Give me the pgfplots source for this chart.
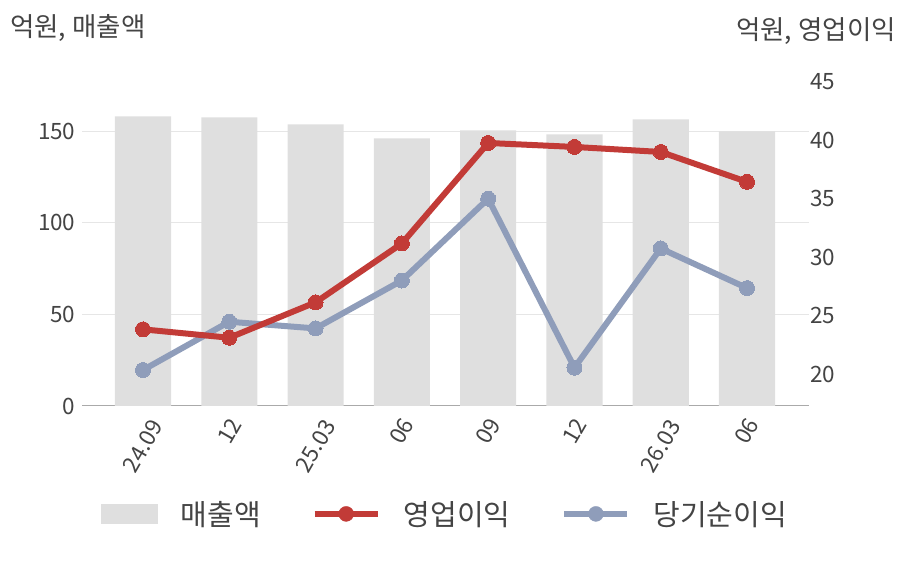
\documentclass[border=0pt]{standalone}
\usepackage{fontspec}
\setmainfont{Noto Sans CJK KR}
\usepackage{pgfplots}
\pgfplotsset{compat=1.18}
\definecolor{barc}{HTML}{DFDFDF}
\definecolor{redc}{HTML}{C23B37}
\definecolor{bluec}{HTML}{8F9DBA}
\definecolor{txt}{HTML}{444444}
\definecolor{gridc}{HTML}{E6E6E6}
\definecolor{axc}{HTML}{AAAAAA}
\begin{document}
\begin{tikzpicture}
\path[use as bounding box] (0,0) rectangle (908pt,580pt);
\node[anchor=west, inner sep=0pt, text=txt, font=\fontsize{26.5}{30}\selectfont] at (10pt,551.5pt) {억원, 매출액};
\node[anchor=east, inner sep=0pt, text=txt, font=\fontsize{26.5}{30}\selectfont] at (896pt,548.5pt) {억원, 영업이익};
\begin{axis}[
  at={(82pt,174pt)}, anchor=south west,
  scale only axis, width=727pt, height=326pt,
  xmin=-0.707, xmax=7.718, ymin=0, ymax=178,
  axis x line*=bottom, axis y line*=left,
  y axis line style={draw=none},
  x axis line style={axc, line width=1pt, -},
  major tick length=0pt,
  ytick={0,50,100,150},
  ymajorgrids, grid style={gridc, line width=1pt},
  tick label style={text=txt, font=\fontsize{22.5}{26}\selectfont},
  yticklabel style={xshift=-3pt},
  /pgf/number format/assume math mode=true,
  xtick={1,3,4,5,7}, xticklabels={12,06,09,12,06},
  extra x ticks={0,2,6}, extra x tick labels={24.09,25.03,26.03},
  extra x tick style={every x tick label/.style={yshift=-40pt, rotate=60, anchor=center}},
  every x tick label/.style={yshift=-25pt, rotate=60, anchor=center},
]
\addplot[ybar, bar width=0.65, fill=barc, draw=none] coordinates {
  (0,158.1) (1,157.6) (2,153.8) (3,146.1) (4,150.5) (5,148.3) (6,156.5) (7,149.9)};
\end{axis}
\begin{axis}[
  at={(82pt,174pt)}, anchor=south west,
  scale only axis, width=727pt, height=326pt,
  xmin=-0.707, xmax=7.718, ymin=17.26, ymax=45.16,
  axis x line=none, axis y line*=right,
  y axis line style={draw=none},
  major tick length=0pt,
  ytick={20,25,30,35,40,45},
  tick label style={text=txt, font=\fontsize{22.5}{26}\selectfont},
  /pgf/number format/assume math mode=true,
  yticklabel style={anchor=west, inner xsep=1pt},
  legend columns=-1,
  legend style={at={(0.498,-0.331)}, anchor=center, draw=none, fill=none,
    font=\fontsize{29}{33}\selectfont, text=txt,
    nodes={inner xsep=0pt},
    /tikz/every odd column/.append style={column sep=23pt},
    /tikz/every even column/.append style={column sep=51pt}},
]
\addplot[bluec, line width=6pt, mark=*, mark size=7.5pt, mark options={solid, fill=bluec, draw=bluec, line width=0pt}, forget plot] coordinates {
  (0,20.34) (1,24.47) (2,23.9) (3,28.0) (4,35.0) (5,20.54) (6,30.74) (7,27.35)};
\addplot[redc, line width=6pt, mark=*, mark size=7.5pt, mark options={solid, fill=redc, draw=redc, line width=0pt}, forget plot] coordinates {
  (0,23.82) (1,23.1) (2,26.13) (3,31.17) (4,39.77) (5,39.43) (6,39.0) (7,36.44)};
\addlegendimage{legend image code/.code={\fill[barc] (0pt,-9.5pt) rectangle (56pt,9.5pt);}}
\addlegendentry{매출액}
\addlegendimage{legend image code/.code={\draw[redc, line width=6pt] (0pt,0pt) -- (63pt,0pt); \fill[redc] (31.5pt,0pt) circle (7.5pt);}}
\addlegendentry{영업이익}
\addlegendimage{legend image code/.code={\draw[bluec, line width=6pt] (0pt,0pt) -- (63pt,0pt); \fill[bluec] (31.5pt,0pt) circle (7.5pt);}}
\addlegendentry{당기순이익}
\end{axis}
\end{tikzpicture}
\end{document}
